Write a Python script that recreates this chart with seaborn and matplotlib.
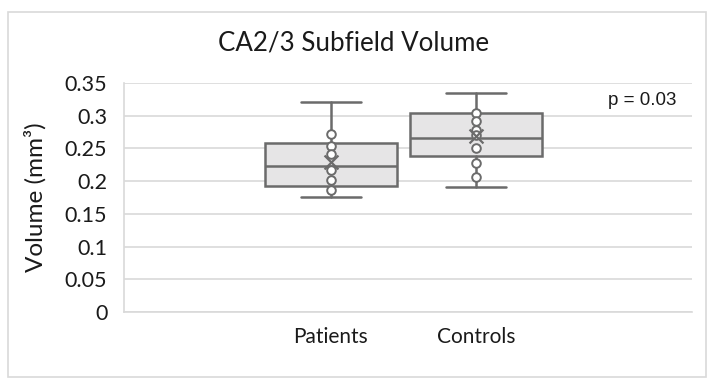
import numpy as np
import pandas as pd
import matplotlib
matplotlib.use("Agg")
import matplotlib.pyplot as plt
import seaborn as sns
from matplotlib.patches import Rectangle

# ---- data ----
groups = ["Patients", "Controls"]
patients_points = [0.2725, 0.253, 0.2415, 0.2166, 0.2017, 0.1865]
controls_points = [0.304, 0.292, 0.2777, 0.2705, 0.250, 0.228, 0.206]
q1 = [0.193, 0.2384]
median = [0.223, 0.2664]
q3 = [0.258, 0.3037]
whisker_low = [0.176, 0.1915]
whisker_high = [0.321, 0.335]
means = [0.2297, 0.269]
p_text = "p = 0.03"
yticks = [0, 0.05, 0.1, 0.15, 0.2, 0.25, 0.3, 0.35]
ytick_labels = ["0", "0.05", "0.1", "0.15", "0.2", "0.25", "0.3", "0.35"]

sns.set_theme(style="white")
plt.rcParams["font.family"] = ["Lato", "DejaVu Sans"]

EDGE = "#6b6b6b"
FILL = "#e6e5e6"
GRID = "#d9d9d9"

fig = plt.figure(figsize=(7.2, 3.86), dpi=100)
fig.patch.set_facecolor("white")
# outer chart border
fig.add_artist(Rectangle((7.5 / 720, 1 - 376.5 / 386), (706 - 7.5) / 720, (376.5 - 12) / 386,
                         transform=fig.transFigure, fill=False, edgecolor=GRID, linewidth=1.2))

ax = fig.add_axes([124 / 720, 1 - 312 / 386, (692 - 124) / 720, (312 - 83) / 386])

stats = []
for i, g in enumerate(groups):
    stats.append(dict(label=g, q1=q1[i], med=median[i], q3=q3[i],
                      whislo=whisker_low[i], whishi=whisker_high[i],
                      mean=means[i], fliers=[]))
ax.bxp(stats, positions=[0, 1], widths=0.91, patch_artist=True, showmeans=False,
       boxprops=dict(facecolor=FILL, edgecolor=EDGE, linewidth=1.8),
       medianprops=dict(color=EDGE, linewidth=1.8),
       whiskerprops=dict(color=EDGE, linewidth=1.8),
       capprops=dict(color=EDGE, linewidth=1.8), capwidths=0.42,
       manage_ticks=False, zorder=3)

df = pd.DataFrame({
    "group": ["Patients"] * len(patients_points) + ["Controls"] * len(controls_points),
    "volume": patients_points + controls_points,
})
sns.stripplot(data=df, x="group", y="volume", order=groups, jitter=False, ax=ax,
              color="white", edgecolor=EDGE, linewidth=1.4, size=6.2, zorder=5)

mdf = pd.DataFrame({"group": groups, "volume": means})
sns.stripplot(data=mdf, x="group", y="volume", order=groups, jitter=False, ax=ax,
              marker="x", color=EDGE, linewidth=1.6, size=10, zorder=6)

ax.set_xlim(-1.4276, 2.4897)
ax.set_ylim(0, 0.35)
ax.set_yticks(yticks)
ax.set_yticklabels(ytick_labels, fontsize=15.5, color="#1a1a1a")
ax.yaxis.grid(True, color=GRID, linewidth=1.2)
ax.set_axisbelow(True)
ax.tick_params(axis="y", length=0, pad=12)
ax.tick_params(axis="x", length=0, pad=11, labelsize=15, labelcolor="#1a1a1a")
ax.set_xlabel("")
ax.set_ylabel("")
for s in ["top", "right"]:
    ax.spines[s].set_visible(False)
ax.spines["left"].set_color(GRID)
ax.spines["bottom"].set_color(GRID)
ax.spines["left"].set_linewidth(1.2)
ax.spines["bottom"].set_linewidth(1.2)

ax.text(2.145, 0.324, p_text, ha="center", va="center", fontsize=13.5,
        family=["Liberation Sans", "DejaVu Sans"], color="#1a1a1a")

fig.text(354 / 720, 1 - 43 / 386, "CA2/3 Subfield Volume", ha="center", va="center",
         fontsize=18.6, color="#1a1a1a")
fig.text(35 / 720, 1 - 197 / 386, "Volume (mm³)", ha="center", va="center",
         rotation=90, fontsize=17.5, color="#1a1a1a")

fig.savefig("out.png", dpi=100, facecolor="white")
